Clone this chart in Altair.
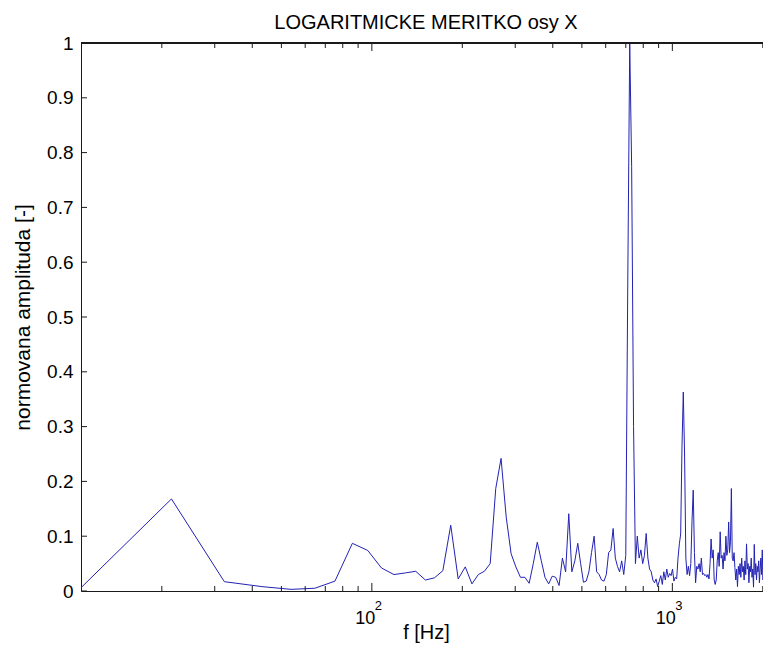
import altair as alt
import pandas as pd

# FFT bin width of the spectrum (44100 Hz / 4096 samples)
BIN_HZ = 44100 / 4096

# normalised amplitude of bins k = 1, 2, 3, ...
amplitude = [
    0.006, 0.168, 0.017, 0.008, 0.003, 0.005, 0.018, 0.087, 0.074, 0.042,
    0.030, 0.033, 0.036, 0.020, 0.024, 0.037, 0.120, 0.022, 0.044, 0.013,
    0.030, 0.036, 0.050, 0.187, 0.242, 0.135, 0.068, 0.044, 0.025, 0.025,
    0.014, 0.050, 0.089, 0.056, 0.025, 0.013, 0.027, 0.025, 0.010, 0.060,
    0.035, 0.141, 0.035, 0.055, 0.087, 0.050, 0.016, 0.018, 0.035, 0.070,
    0.100, 0.035, 0.030, 0.020, 0.018, 0.030, 0.070, 0.075, 0.114, 0.060,
    0.045, 0.035, 0.055, 0.030, 0.065, 0.560, 1.000, 0.775, 0.300, 0.050,
    0.100, 0.060, 0.075, 0.050, 0.065, 0.105, 0.060, 0.040, 0.035, 0.020,
    0.015, 0.022, 0.008, 0.018, 0.028, 0.012, 0.035, 0.020, 0.040, 0.025,
    0.032, 0.028, 0.040, 0.018, 0.025, 0.022, 0.060, 0.086, 0.104, 0.263,
    0.363, 0.250, 0.060, 0.030, 0.045, 0.028, 0.050, 0.128, 0.184, 0.070,
    0.015, 0.045, 0.040, 0.050, 0.035, 0.060, 0.030, 0.032, 0.028, 0.030,
    0.025, 0.030, 0.022, 0.050, 0.095, 0.060, 0.075, 0.020, 0.012, 0.020,
    0.055, 0.070, 0.045, 0.108, 0.060, 0.065, 0.040, 0.070, 0.055, 0.100,
    0.065, 0.075, 0.126, 0.070, 0.090, 0.187, 0.060, 0.055, 0.070, 0.043,
    0.020, 0.040, 0.008, 0.045, 0.030, 0.050, 0.025, 0.060, 0.035, 0.045,
    0.020, 0.055, 0.030, 0.086, 0.040, 0.050, 0.015, 0.045, 0.035, 0.060,
    0.025, 0.040, 0.007, 0.085, 0.030, 0.050, 0.020, 0.045, 0.035, 0.055,
    0.015, 0.040, 0.060, 0.030, 0.075, 0.020, 0.050, 0.035, 0.010, 0.060,
]
freq = [round((i + 1) * BIN_HZ, 3) for i in range(len(amplitude))]

x_minor_ticks = [20, 30, 40, 50, 60, 70, 80, 90,
                 200, 300, 400, 500, 600, 700, 800, 900, 2000]
x_major_ticks = [100, 1000]
x_major_base = ["10", "10"]
x_major_exp = ["2", "3"]
y_ticks = [0, 0.1, 0.2, 0.3, 0.4, 0.5, 0.6, 0.7, 0.8, 0.9, 1]

TITLE = "LOGARITMICKE MERITKO osy X"
X_TITLE = "f [Hz]"
Y_TITLE = "normovana amplituda [-]"

W, H = 682, 548
FONT = "Liberation Sans"
LINE_COLOR = "#2222b4"
BOX = "#1a1a1a"

xscale = alt.Scale(type="log", domain=[BIN_HZ, 2003], nice=False)
yscale = alt.Scale(domain=[0, 1], nice=False, zero=False)

x_axis = alt.Axis(values=x_major_ticks, labelExpr="'10'", ticks=False, tickSize=0,
                  domain=True, domainColor=BOX, domainWidth=1, grid=False,
                  labelPadding=32, labelBaseline="alphabetic", labelAlign="right",
                  labelOffset=3, labelFontSize=18, labelFont=FONT,
                  labelColor="black", title=X_TITLE, titleFont=FONT,
                  titleFontSize=20, titleFontWeight="normal", titleColor="black",
                  titleBaseline="alphabetic", titleY=47, titleX=W / 2 + 4)
y_axis = alt.Axis(values=y_ticks, labelExpr="format(datum.value, '.1~f')",
                  ticks=False, tickSize=0, domain=True, domainColor=BOX,
                  domainWidth=1, grid=False, labelPadding=8, labelFontSize=19,
                  labelFont=FONT, labelColor="black", title=Y_TITLE,
                  titleFont=FONT, titleFontSize=21, titleFontWeight="normal",
                  titleColor="black", titleAngle=270, titleBaseline="alphabetic",
                  titleAlign="center", titleX=-52, titleY=H / 2)

df = pd.DataFrame({"f": freq, "a": amplitude})
minor_df = pd.DataFrame({"t": x_minor_ticks})
major_df = pd.DataFrame({"t": x_major_ticks, "b": x_major_base, "e": x_major_exp})
yt_df = pd.DataFrame({"v": y_ticks})
title_df = pd.DataFrame({"txt": [TITLE]})

line = alt.Chart(df).mark_line(color=LINE_COLOR, strokeWidth=1, clip=True).encode(
    x=alt.X("f:Q", scale=xscale, axis=x_axis),
    y=alt.Y("a:Q", scale=yscale, axis=y_axis),
)

top_border = alt.Chart(yt_df).mark_rule(color=BOX).encode(
    x=alt.value(0), x2=alt.value(W), y=alt.value(0))
bottom_minor = alt.Chart(minor_df).mark_rule(color=BOX).encode(
    x=alt.X("t:Q", scale=xscale, axis=x_axis), y=alt.value(H), y2=alt.value(H - 5))
bottom_major = alt.Chart(major_df).mark_rule(color=BOX).encode(
    x=alt.X("t:Q", scale=xscale, axis=x_axis), y=alt.value(H), y2=alt.value(H - 8))
top_minor = alt.Chart(minor_df).mark_rule(color=BOX).encode(
    x=alt.X("t:Q", scale=xscale, axis=x_axis), y=alt.value(0), y2=alt.value(5))
top_major = alt.Chart(major_df).mark_rule(color=BOX).encode(
    x=alt.X("t:Q", scale=xscale, axis=x_axis), y=alt.value(0), y2=alt.value(8))
left_ticks = alt.Chart(yt_df).mark_rule(color=BOX).encode(
    y=alt.Y("v:Q", scale=yscale, axis=y_axis), x=alt.value(0), x2=alt.value(6))
exponents = alt.Chart(major_df).mark_text(
    align="left", baseline="alphabetic", dx=3, font=FONT, fontSize=13, color="black"
).encode(x=alt.X("t:Q", scale=xscale, axis=x_axis), y=alt.value(H + 19), text="e:N")
title_text = alt.Chart(title_df).mark_text(
    align="center", baseline="alphabetic", font=FONT, fontSize=20, color="black"
).encode(x=alt.value(W / 2 + 4), y=alt.value(-14), text="txt:N")

chart = alt.layer(
    line, top_border, bottom_minor, bottom_major, top_minor, top_major,
    left_ticks, exponents, title_text,
).properties(
    width=W, height=H,
    autosize=alt.AutoSizeParams(type="none"),
    padding={"left": 73, "top": 35, "right": 0, "bottom": 52},
).configure_view(stroke=None).configure(background="white")

chart.save("out.html", embed_options={"renderer": "svg", "actions": False})
